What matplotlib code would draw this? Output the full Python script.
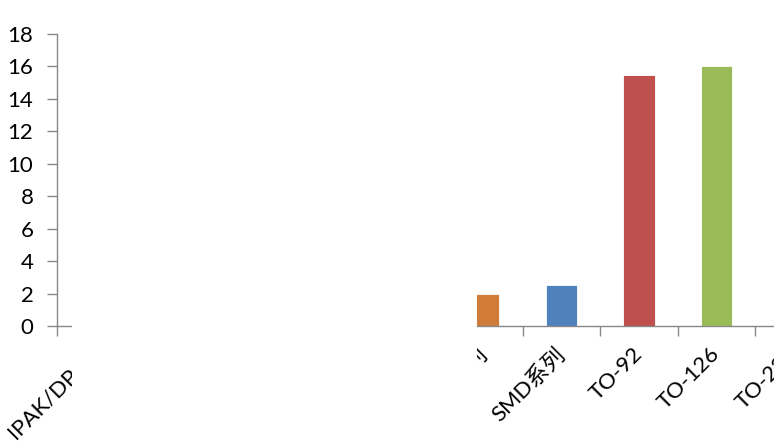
import numpy as np
import matplotlib
matplotlib.use("Agg")
import matplotlib.pyplot as plt
from matplotlib.patches import Rectangle

plt.rcParams["font.family"] = ["Lato", "Noto Sans CJK SC", "DejaVu Sans"]

# package families along the x axis; unnamed slots carry no readable data
categories = ["IPAK/DPAK", "", "", "", "", "SOT系列", "SMD系列", "TO-92", "TO-126", "TO-220"]
values = [np.nan, np.nan, np.nan, np.nan, np.nan, 2.0, 2.5, 15.5, 16.0, np.nan]
bar_colors = ["#4f81bd", "#4f81bd", "#4f81bd", "#4f81bd", "#4f81bd",
              "#d07c38", "#4f81bd", "#c0504d", "#9bbb59", "#4f81bd"]
yticks = list(range(0, 19, 2))

W, H = 774, 443
fig = plt.figure(figsize=(W / 100, H / 100), dpi=100)
step = 77.6
ax = fig.add_axes([57 / W, (H - 326) / H, step * len(categories) / W, 292 / H])

x = np.arange(len(categories))
vals = np.array(values, dtype=float)
ok = ~np.isnan(vals)
ax.bar(x[ok], vals[ok], width=0.4,
       color=[c for c, k in zip(bar_colors, ok) if k],
       edgecolor="white", linewidth=0.6, zorder=2)

ax.set_xlim(-0.5, len(categories) - 0.5)
ax.set_ylim(0, 18)
ax.set_yticks(yticks)

# boundary ticks between categories, labels at the centres
ax.set_xticks(np.arange(len(categories) + 1) - 0.5)
ax.set_xticklabels([])
ax.set_xticks(x, minor=True)
ax.set_xticklabels(categories, minor=True, rotation=45, ha="right",
                   va="center", rotation_mode="anchor", fontsize=16)
ax.tick_params(axis="x", which="minor", length=0, pad=18)
ax.tick_params(axis="x", which="major", length=7, width=1, color="#888888")
ax.tick_params(axis="y", length=7, width=1, color="#888888", labelsize=16, pad=10)

for side in ("top", "right"):
    ax.spines[side].set_visible(False)
for side in ("left", "bottom"):
    ax.spines[side].set_color("#888888")
    ax.spines[side].set_linewidth(1)

# blank band over the middle of the plot
fig.add_artist(Rectangle((72 / W, 0), (477 - 72) / W, 1, transform=fig.transFigure,
                         facecolor="white", edgecolor="none", zorder=10))

fig.savefig("out.png", dpi=100)
